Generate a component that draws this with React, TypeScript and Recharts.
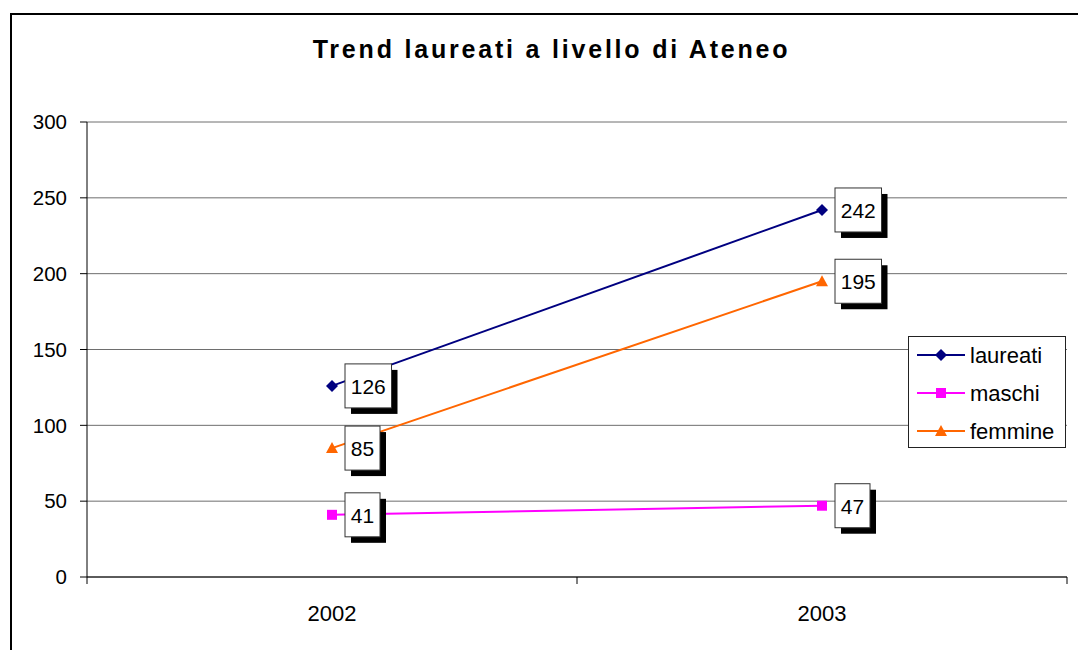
import React from "react";
import {
  LineChart,
  Line,
  CartesianGrid,
  XAxis,
  YAxis,
  Legend,
  LabelList,
} from "recharts";

const years = ["2002", "2003"];
const laureati = [126, 242];
const maschi = [41, 47];
const femmine = [85, 195];
const yTicks = [0, 50, 100, 150, 200, 250, 300];

const data = years.map((year, i) => ({
  year,
  laureati: laureati[i],
  maschi: maschi[i],
  femmine: femmine[i],
}));

const FONT = "'Liberation Sans', Arial, sans-serif";
const W = 1078;
const H = 650;
const LEFT = 87;
const RIGHT = 11;
const TOP = 122;
const BOTTOM = 73;
const HALF_BAND = (W - LEFT - RIGHT) / years.length / 2;

const NAVY = "#000080";
const MAGENTA = "#ff00ff";
const ORANGE = "#ff6600";

const Marker = ({ shape, cx, cy, color }: any) => {
  if (shape === "diamond") {
    return (
      <path
        d={`M${cx},${cy - 6} L${cx + 6},${cy} L${cx},${cy + 6} L${cx - 6},${cy} Z`}
        fill={color}
      />
    );
  }
  if (shape === "square") {
    return <rect x={cx - 5} y={cy - 5} width={10} height={10} fill={color} />;
  }
  return (
    <path d={`M${cx},${cy - 6} L${cx + 6},${cy + 5} L${cx - 6},${cy + 5} Z`} fill={color} />
  );
};

const makeDot = (shape: string, color: string) => (props: any) => (
  <Marker key={`${shape}-${props.index}`} shape={shape} cx={props.cx} cy={props.cy} color={color} />
);

const ValueBox = (props: any) => {
  const { x, y, value } = props;
  const text = String(value);
  const w = text.length * 11.5 + 12;
  const h = 44;
  const bx = x + 13;
  const by = y - h / 2;
  return (
    <g>
      <rect x={bx + 6} y={by + 6} width={w} height={h} fill="#000" />
      <rect x={bx} y={by} width={w} height={h} fill="#fff" stroke="#333" strokeWidth={1} />
      <text
        x={bx + w / 2}
        y={y + 8}
        textAnchor="middle"
        fontSize={21}
        fontFamily={FONT}
        fill="#000"
      >
        {text}
      </text>
    </g>
  );
};

const XTick = (props: any) => {
  const { x, y, payload, index } = props;
  const axisY = y - 7;
  return (
    <g>
      <line x1={x - HALF_BAND} y1={axisY} x2={x - HALF_BAND} y2={axisY + 7} stroke="#000" />
      {index === years.length - 1 && (
        <line x1={x + HALF_BAND} y1={axisY} x2={x + HALF_BAND} y2={axisY + 7} stroke="#000" />
      )}
      <text x={x} y={axisY + 44} textAnchor="middle" fontSize={22} fontFamily={FONT} fill="#000">
        {payload.value}
      </text>
    </g>
  );
};

const legendItems = [
  { name: "laureati", color: NAVY, shape: "diamond" },
  { name: "maschi", color: MAGENTA, shape: "square" },
  { name: "femmine", color: ORANGE, shape: "triangle" },
];

const LegendBox = () => (
  <svg width={158} height={112} style={{ display: "block" }}>
    <rect x={0.5} y={0.5} width={157} height={111} fill="#fff" stroke="#222" />
    {legendItems.map((it, i) => {
      const cy = 19 + i * 38;
      return (
        <g key={it.name}>
          <line x1={9} y1={cy} x2={57} y2={cy} stroke={it.color} strokeWidth={2} />
          <Marker shape={it.shape} cx={33} cy={cy} color={it.color} />
          <text x={62} y={cy + 8} fontSize={22} fontFamily={FONT} fill="#000">
            {it.name}
          </text>
        </g>
      );
    })}
  </svg>
);

export default function App() {
  return (
    <div
      style={{
        position: "absolute",
        left: 0,
        top: 0,
        width: W,
        height: H,
        background: "#fff",
        overflow: "hidden",
      }}
    >
      <div
        style={{
          position: "absolute",
          left: 10,
          top: 13,
          width: 1200,
          height: 800,
          border: "2px solid #000",
        }}
      />
      <div
        style={{
          position: "absolute",
          left: 0,
          width: 1103,
          top: 37,
          textAlign: "center",
          fontFamily: FONT,
          fontWeight: "bold",
          fontSize: 25,
          lineHeight: "25px",
          letterSpacing: 2.8,
          color: "#000",
        }}
      >
        Trend laureati a livello di Ateneo
      </div>
      <div style={{ position: "absolute", left: 0, top: 0 }}>
        <LineChart
          width={W}
          height={H}
          data={data}
          margin={{ top: TOP, right: RIGHT, bottom: BOTTOM - 30, left: LEFT - 60 }}
        >
          <CartesianGrid horizontal vertical={false} stroke="#6e6e6e" />
          <XAxis
            dataKey="year"
            height={30}
            tickSize={7}
            tickMargin={0}
            tickLine={false}
            tick={<XTick />}
            axisLine={{ stroke: "#000" }}
            interval={0}
            padding={{ left: HALF_BAND, right: HALF_BAND }}
          />
          <YAxis
            width={60}
            domain={[0, 300]}
            ticks={yTicks}
            tickSize={7}
            tickMargin={13}
            tickLine={{ stroke: "#000" }}
            axisLine={{ stroke: "#000" }}
            tick={{ fill: "#000", fontSize: 20.5, fontFamily: FONT }}
          />
          <Legend
            layout="vertical"
            align="center"
            verticalAlign="middle"
            content={<LegendBox />}
            wrapperStyle={{ left: 908, top: 336, width: 158, height: 112 }}
          />
          <Line
            dataKey="laureati"
            stroke={NAVY}
            strokeWidth={2}
            dot={makeDot("diamond", NAVY)}
            isAnimationActive={false}
          >
            <LabelList dataKey="laureati" content={<ValueBox />} />
          </Line>
          <Line
            dataKey="maschi"
            stroke={MAGENTA}
            strokeWidth={2}
            dot={makeDot("square", MAGENTA)}
            isAnimationActive={false}
          >
            <LabelList dataKey="maschi" content={<ValueBox />} />
          </Line>
          <Line
            dataKey="femmine"
            stroke={ORANGE}
            strokeWidth={2}
            dot={makeDot("triangle", ORANGE)}
            isAnimationActive={false}
          >
            <LabelList dataKey="femmine" content={<ValueBox />} />
          </Line>
        </LineChart>
      </div>
    </div>
  );
}
